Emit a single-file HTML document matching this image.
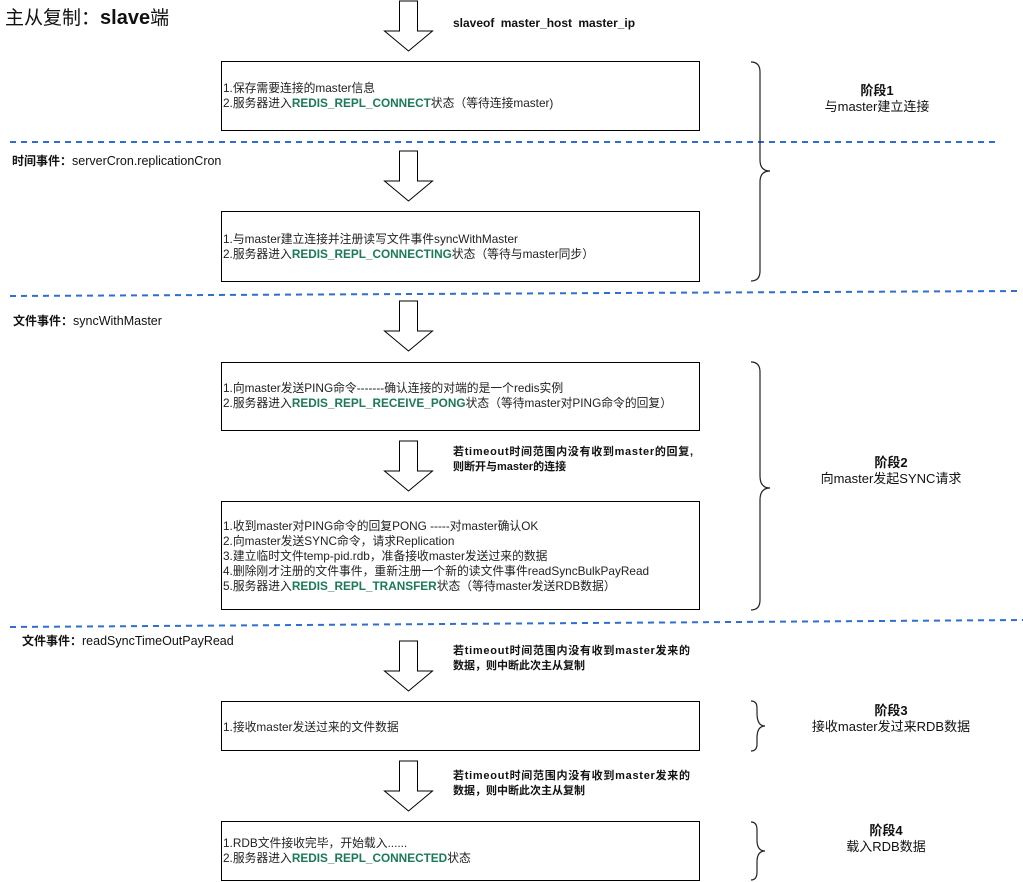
<!DOCTYPE html>
<html><head><meta charset="utf-8"><style>
html,body{margin:0;padding:0;background:#fff;}
svg{display:block;font-family:"Liberation Sans","Noto Sans CJK SC",sans-serif;}
.t{font-size:11.8px;fill:#222;}
.g{fill:#1a7a5a;font-weight:bold;}
.b{font-size:11px;font-weight:bold;fill:#111;}
.w{font-size:11px;font-weight:bold;fill:#111;}
.s{font-size:13px;fill:#111;}
</style></head><body>
<svg width="1023" height="882" viewBox="0 0 1023 882" xmlns="http://www.w3.org/2000/svg">
<defs>
<g id="arr"><path d="M399.5 0 H417.5 V30 H432.5 L408.5 50 L384.5 30 H399.5 Z" fill="#fff" stroke="#000" stroke-width="1"/></g>
</defs>
<text x="5" y="24" style="font-size:19px;fill:#111">主从复制：<tspan font-weight="bold" font-size="20">slave</tspan>端</text>

<use href="#arr" transform="translate(0,1)"/>
<text x="453" y="27" style="font-size:12px;font-weight:bold;fill:#111;word-spacing:3px">slaveof master_host master_ip</text>
<rect x="221.5" y="61.5" width="478" height="69" fill="none" stroke="#000"/>
<text x="223" y="92" class="t">1.保存需要连接的master信息</text>
<text x="223" y="107" class="t">2.服务器进入<tspan class="g">REDIS_REPL_CONNECT</tspan>状态（等待连接master)</text>

<line x1="10" y1="142" x2="995" y2="142" stroke="#2f6fd1" stroke-width="2" stroke-dasharray="6,5"/>
<text x="12" y="165" class="b" style="font-size:12px">时间事件：<tspan font-weight="normal" font-size="12.5">serverCron.replicationCron</tspan></text>

<use href="#arr" transform="translate(0,151)"/>
<rect x="221.5" y="211.5" width="478" height="70" fill="none" stroke="#000"/>
<text x="223" y="243" class="t">1.与master建立连接并注册读写文件事件syncWithMaster</text>
<text x="223" y="258" class="t">2.服务器进入<tspan class="g">REDIS_REPL_CONNECTING</tspan>状态（等待与master同步）</text>

<line x1="10" y1="296" x2="1020" y2="291" stroke="#2f6fd1" stroke-width="2" stroke-dasharray="6,5"/>
<text x="13" y="325" class="b" style="font-size:12px">文件事件：<tspan font-weight="normal" font-size="12.5">syncWithMaster</tspan></text>

<use href="#arr" transform="translate(0,301)"/>
<rect x="221.5" y="362.5" width="478" height="68" fill="none" stroke="#000"/>
<text x="223" y="392" class="t">1.向master发送PING命令-------确认连接的对端的是一个redis实例</text>
<text x="223" y="407" class="t">2.服务器进入<tspan class="g">REDIS_REPL_RECEIVE_PONG</tspan>状态（等待master对PING命令的回复）</text>

<use href="#arr" transform="translate(0,441)"/>
<text x="453" y="455" class="w" textLength="240">若timeout时间范围内没有收到master的回复,</text>
<text x="453" y="470" class="w">则断开与master的连接</text>
<rect x="221.5" y="501.5" width="478" height="108" fill="none" stroke="#000"/>
<text x="223" y="530" class="t">1.收到master对PING命令的回复PONG -----对master确认OK</text>
<text x="223" y="545" class="t">2.向master发送SYNC命令，请求Replication</text>
<text x="223" y="560" class="t">3.建立临时文件temp-pid.rdb，准备接收master发送过来的数据</text>
<text x="223" y="575" class="t">4.删除刚才注册的文件事件，重新注册一个新的读文件事件readSyncBulkPayRead</text>
<text x="223" y="590" class="t">5.服务器进入<tspan class="g">REDIS_REPL_TRANSFER</tspan>状态（等待master发送RDB数据）</text>

<line x1="10" y1="627" x2="1023" y2="620" stroke="#2f6fd1" stroke-width="2" stroke-dasharray="6,5"/>
<text x="22" y="645" class="b" style="font-size:12px">文件事件：<tspan font-weight="normal" font-size="12.5">readSyncTimeOutPayRead</tspan></text>

<use href="#arr" transform="translate(0,641)"/>
<text x="453" y="654" class="w" textLength="237">若timeout时间范围内没有收到master发来的</text>
<text x="453" y="669" class="w">数据，则中断此次主从复制</text>
<rect x="221.5" y="701.5" width="478" height="49" fill="none" stroke="#000"/>
<text x="223" y="731" class="t">1.接收master发送过来的文件数据</text>

<use href="#arr" transform="translate(0,761)"/>
<text x="453" y="779" class="w" textLength="237">若timeout时间范围内没有收到master发来的</text>
<text x="453" y="794" class="w">数据，则中断此次主从复制</text>
<rect x="221.5" y="821.5" width="478" height="59" fill="none" stroke="#000"/>
<text x="223" y="847" class="t">1.RDB文件接收完毕，开始载入......</text>
<text x="223" y="862" class="t">2.服务器进入<tspan class="g">REDIS_REPL_CONNECTED</tspan>状态</text>

<g fill="none" stroke="#222" stroke-width="1.2">
<path d="M751 62 Q760 62 760 72 V160 Q760 171 770 171 Q760 171 760 182 V271 Q760 281 751 281"/>
<path d="M751 362 Q760 362 760 372 V476 Q760 488 770 488 Q760 488 760 500 V600 Q760 610 751 610"/>
<path d="M751 701 Q757 701 757 708 V713 Q757 726 765 726 Q757 726 757 738 V744 Q757 751 751 751"/>
<path d="M751 822 Q757 822 757 830 V840 Q757 851 765 851 Q757 851 757 862 V872 Q757 880 751 880"/>
</g>
<g text-anchor="middle">
<text x="877" y="95" class="s" font-weight="bold">阶段1</text>
<text x="877" y="111" class="s">与master建立连接</text>
<text x="891" y="467" class="s" font-weight="bold">阶段2</text>
<text x="891" y="483" class="s">向master发起SYNC请求</text>
<text x="891" y="715" class="s" font-weight="bold">阶段3</text>
<text x="891" y="731" class="s">接收master发过来RDB数据</text>
<text x="886" y="835" class="s" font-weight="bold">阶段4</text>
<text x="886" y="851" class="s">载入RDB数据</text>
</g>
</svg>
</body></html>
